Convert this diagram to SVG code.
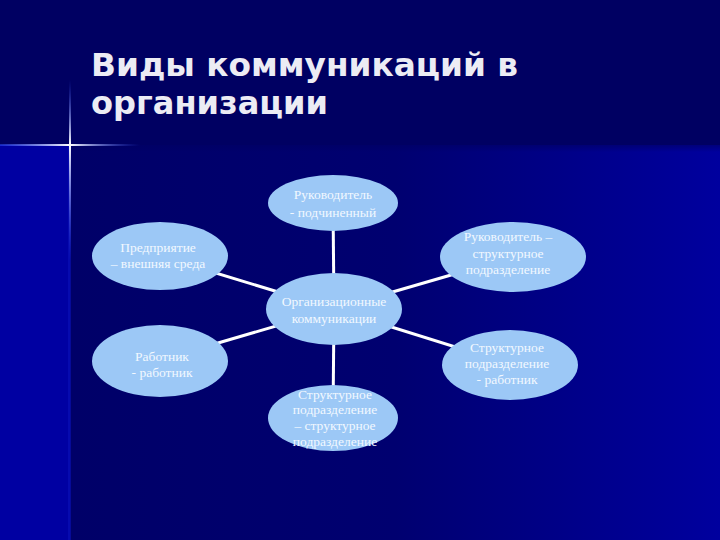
<svg xmlns="http://www.w3.org/2000/svg" width="720" height="540" viewBox="0 0 720 540">
  <style>
    .node ellipse { fill: #9cc8f6; }
    .node text { font-family: "Liberation Serif", "Times New Roman", serif; font-size: 13.5px; fill: #f2f8ff; text-anchor: middle; }
    .title { font-family: "DejaVu Sans", "Liberation Sans", sans-serif; font-weight: bold; font-size: 32px; fill: #ececf4; }
    #connectors line { stroke: #ffffff; stroke-width: 3; }
  </style>
  <defs>
    <linearGradient id="panel" gradientUnits="userSpaceOnUse" x1="70" y1="0" x2="720" y2="0">
      <stop offset="0" stop-color="#000068"/>
      <stop offset="0.5" stop-color="#000070"/>
      <stop offset="1" stop-color="#00009e"/>
    </linearGradient>
    <linearGradient id="vline" gradientUnits="userSpaceOnUse" x1="0" y1="80" x2="0" y2="260">
      <stop offset="0" stop-color="#3050ff" stop-opacity="0"/>
      <stop offset="0.36" stop-color="#ffffff" stop-opacity="1"/>
      <stop offset="1" stop-color="#3050ff" stop-opacity="0"/>
    </linearGradient>
    <linearGradient id="hline" gradientUnits="userSpaceOnUse" x1="0" y1="0" x2="140" y2="0">
      <stop offset="0" stop-color="#3050ff" stop-opacity="0.5"/>
      <stop offset="0.5" stop-color="#ffffff" stop-opacity="1"/>
      <stop offset="1" stop-color="#3050ff" stop-opacity="0"/>
    </linearGradient>
    <linearGradient id="band" gradientUnits="userSpaceOnUse" x1="0" y1="140" x2="0" y2="152">
      <stop offset="0" stop-color="#000062"/>
      <stop offset="1" stop-color="#000062" stop-opacity="0"/>
    </linearGradient>
  </defs>

  <!-- background -->
  <rect x="0" y="0" width="720" height="540" fill="#000062"/>
  <rect x="0" y="145" width="70" height="395" fill="#0000a2"/>
  <rect x="70" y="145" width="650" height="395" fill="url(#panel)"/>
  <rect x="70" y="140" width="650" height="12" fill="url(#band)"/>
  <rect x="68" y="145" width="3" height="395" fill="#0a10b8" opacity="0.6"/>
  <rect x="69" y="80" width="2" height="180" fill="url(#vline)"/>
  <rect x="0" y="144" width="140" height="2" fill="url(#hline)"/>

  <!-- title -->
  <text class="title" x="91" y="76" textLength="427" lengthAdjust="spacingAndGlyphs">Виды коммуникаций в</text>
  <text class="title" x="91" y="114" textLength="237" lengthAdjust="spacingAndGlyphs">организации</text>

  <!-- connectors -->
  <g id="connectors">
    <line x1="334" y1="309" x2="333" y2="203"/>
    <line x1="334" y1="309" x2="160" y2="256"/>
    <line x1="334" y1="309" x2="513" y2="257"/>
    <line x1="334" y1="309" x2="160" y2="360"/>
    <line x1="334" y1="309" x2="510" y2="364"/>
    <line x1="334" y1="309" x2="333" y2="418"/>
  </g>

  <g id="node-top" class="node">
    <ellipse cx="333" cy="203" rx="65" ry="28"/>
    <text x="333" y="199">Руководитель</text>
    <text x="333" y="217">- подчиненный</text>
  </g>

  <g id="node-left" class="node">
    <ellipse cx="160" cy="256" rx="68" ry="34"/>
    <text x="158" y="252">Предприятие</text>
    <text x="158" y="268">– внешняя среда</text>
  </g>

  <g id="node-right" class="node">
    <ellipse cx="513" cy="257" rx="73" ry="35"/>
    <text x="508" y="241">Руководитель –</text>
    <text x="508" y="258">структурное</text>
    <text x="508" y="274">подразделение</text>
  </g>

  <g id="node-center" class="node">
    <ellipse cx="334" cy="309" rx="68" ry="36"/>
    <text x="334" y="306">Организационные</text>
    <text x="334" y="323">коммуникации</text>
  </g>

  <g id="node-left-bottom" class="node">
    <ellipse cx="160" cy="361" rx="68" ry="36"/>
    <text x="162" y="361">Работник</text>
    <text x="162" y="377">- работник</text>
  </g>

  <g id="node-right-bottom" class="node">
    <ellipse cx="510" cy="365" rx="68" ry="35"/>
    <text x="507" y="352">Структурное</text>
    <text x="507" y="368">подразделение</text>
    <text x="507" y="384">- работник</text>
  </g>

  <g id="node-bottom" class="node">
    <ellipse cx="333" cy="418" rx="65" ry="33"/>
    <text x="335" y="399">Структурное</text>
    <text x="335" y="414">подразделение</text>
    <text x="335" y="430">– структурное</text>
    <text x="335" y="446">подразделение</text>
  </g>
</svg>
